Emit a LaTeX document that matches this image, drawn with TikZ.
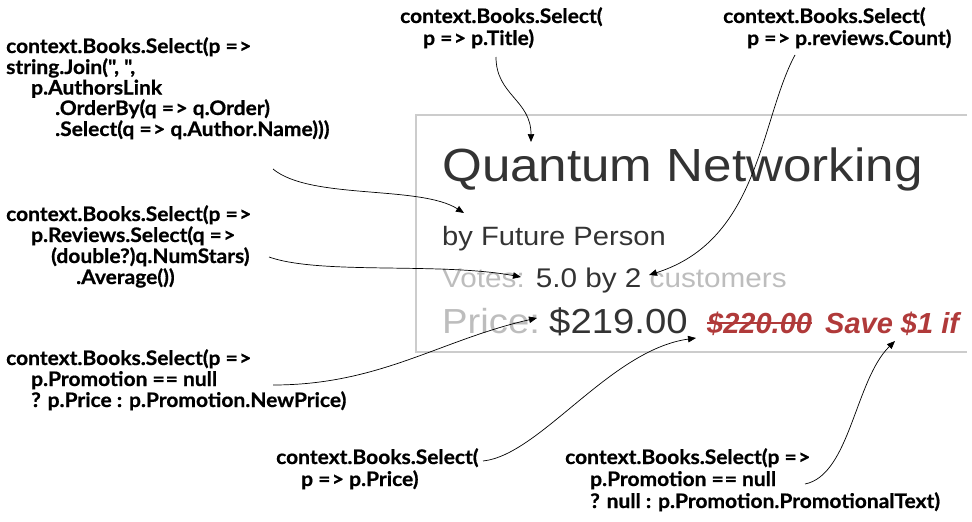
\documentclass[tikz,border=0pt]{standalone}
\usepackage{fontspec}
\newfontfamily\codefont[FakeStretch=1.05,BoldFeatures={FakeBold=0.7}]{Lato}
\newfontfamily\shotfont[FakeStretch=1.1]{Liberation Sans}
\newfontfamily\redfont{Liberation Sans}
\usetikzlibrary{arrows.meta,calc}
\definecolor{shotdark}{HTML}{333333}
\definecolor{shotlight}{HTML}{BDBDBD}
\definecolor{shotred}{HTML}{B03A3A}
\definecolor{framegray}{HTML}{CCCCCC}
\newcommand\arr{=\kern1.5pt>}
\newcommand\eqeq{=\kern1pt=}
\tikzset{
  codeline/.style={anchor=base west, inner sep=0pt, font=\codefont\bfseries\fontsize{20}{21}\selectfont},
  shot/.style={anchor=base west, inner sep=0pt, text=shotdark},
  callout/.style={draw=black, line width=0.7pt, -{Triangle[length=8pt,width=6.5pt]}}
}
\begin{document}
\begin{tikzpicture}[x=1pt,y=-1pt]
\useasboundingbox (0,0) rectangle (972,522);
% screenshot frame (open on the right)
\draw[framegray, line width=1.2pt] (967,115) -- (416,115) -- (416,352) -- (967,352);
% screenshot texts
\node[shot, font=\shotfont\fontsize{46.5}{50}\selectfont] (title) at (442,181) {Quantum Networking};
\node[shot, font=\shotfont\fontsize{26.5}{30}\selectfont] (author) at (442,245) {by Future Person};
\node[shot, font=\shotfont\fontsize{27}{30}\selectfont] (votes) at (442,287) {\textcolor{shotlight}{Votes:} 5.0 by 2 \textcolor{shotlight}{customers}};
\node[shot, font=\shotfont\fontsize{34.8}{38}\selectfont] (price) at (442,333) {\textcolor{shotlight}{Price:}\kern-5pt{} \$219.00};
\node[shot, text=shotred, font=\redfont\bfseries\itshape\fontsize{29}{32}\selectfont] (oldprice) at (707,333) {\$220.00};
\draw[shotred, line width=2.2pt] ($(oldprice.base west)+(0,-10)$) -- ($(oldprice.base east)+(0,-10)$);
\node[shot, text=shotred, font=\redfont\bfseries\itshape\fontsize{29}{32}\selectfont] (save) at (825,333) {Save \$1 if};
% block 1
\node[codeline] (a1) at (6,53) {context.Books.Select(p \arr};
\node[codeline] (a2) at (6,74) {string.Join(", ",};
\node[codeline] (a3) at (31,94.5) {p.AuthorsLink};
\node[codeline] (a4) at (55,115) {.OrderBy(q \arr{} q.Order)};
\node[codeline] (a5) at (55,136) {.Select(q \arr{} q.Author.Name)))};
% block 2
\node[codeline] (b1) at (6,221) {context.Books.Select(p \arr};
\node[codeline] (b2) at (31,242) {p.Reviews.Select(q \arr};
\node[codeline] (b3) at (51,263) {(double?)q.NumStars)};
\node[codeline] (b4) at (76,284) {.Average())};
% block 3
\node[codeline] (c1) at (6,365) {context.Books.Select(p \arr};
\node[codeline] (c2) at (31,386) {p.Promotion \eqeq{} null};
\node[codeline] (c3) at (31,407) {? p.Price : p.Promotion.NewPrice)};
% top middle
\node[codeline] (t1) at (400,23) {context.Books.Select(};
\node[codeline] (t2) at (423,45) {p \arr{} p.Title)};
% top right
\node[codeline] (r1) at (723,23) {context.Books.Select(};
\node[codeline] (r2) at (747,45) {p \arr{} p.reviews.Count)};
% bottom middle
\node[codeline] (m1) at (276,464) {context.Books.Select(};
\node[codeline] (m2) at (301,486) {p \arr{} p.Price)};
% bottom right
\node[codeline] (n1) at (565,464) {context.Books.Select(p \arr};
\node[codeline] (n2) at (590,486) {p.Promotion \eqeq{} null};
\node[codeline] (n3) at (590,508) {? null : p.Promotion.PromotionalText)};
% connector ends
\coordinate (sTitle) at (496,57);   \coordinate (eTitle) at (531,142);
\coordinate (sCount) at (795,55);   \coordinate (eCount) at (649,275);
\coordinate (sAuth) at (273,169);   \coordinate (eAuth) at (464,213);
\coordinate (sAvg) at (269,257);    \coordinate (eAvg) at (521,277);
\coordinate (sNew) at (273,385);    \coordinate (eNew) at (537,318);
\coordinate (sPrice) at (483,461);  \coordinate (ePrice) at (696,338);
\coordinate (sPromo) at (805,484);  \coordinate (ePromo) at (895,341);
\draw[callout] (sTitle) .. controls (496,95) and (531,100) .. (eTitle);
\draw[callout] (sCount) .. controls (760,120) and (760,240) .. (eCount);
\draw[callout] (sAuth) .. controls (310,200) and (420,185) .. (eAuth);
\draw[callout] (sAvg) .. controls (320,275) and (440,262) .. (eAvg);
\draw[callout] (sNew) .. controls (380,385) and (440,340) .. (eNew);
\draw[callout] (sPrice) .. controls (540,455) and (610,350) .. (ePrice);
\draw[callout] (sPromo) .. controls (850,475) and (855,380) .. (ePromo);
\end{tikzpicture}
\end{document}
